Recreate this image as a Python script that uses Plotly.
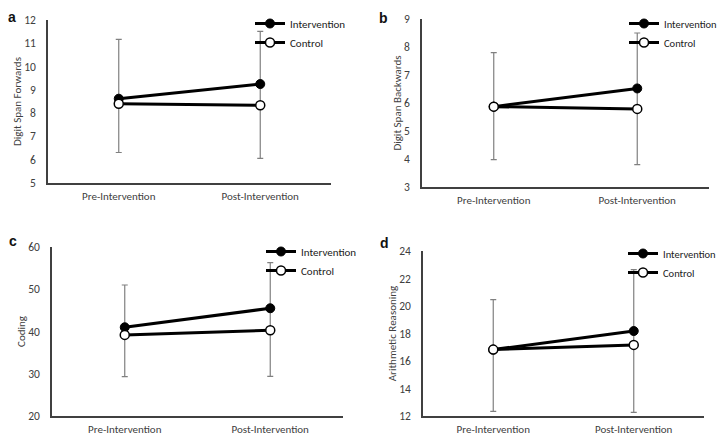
import plotly.graph_objects as go

categories = ["Pre-Intervention", "Post-Intervention"]

# Panel a: Digit Span Forwards
a_intervention = [8.62, 9.25]
a_control = [8.40, 8.34]
a_err_top = [11.17, 11.51]
a_err_bottom = [6.31, 6.06]

# Panel b: Digit Span Backwards
b_intervention = [5.87, 6.52]
b_control = [5.87, 5.79]
b_err_top = [7.80, 8.50]
b_err_bottom = [3.98, 3.80]

# Panel c: Coding
c_intervention = [41.0, 45.5]
c_control = [39.2, 40.3]
c_err_top = [51.0, 56.3]
c_err_bottom = [29.3, 29.4]

# Panel d: Arithmetic Reasoning
d_intervention = [16.83, 18.18]
d_control = [16.83, 17.17]
d_err_top = [20.46, 22.65]
d_err_bottom = [12.34, 12.27]

panels = [
    dict(label="a", ytitle="Digit Span Forwards", inter=a_intervention, ctrl=a_control,
         top=a_err_top, bot=a_err_bottom, yrange=[5, 12], dtick=1),
    dict(label="b", ytitle="Digit Span Backwards", inter=b_intervention, ctrl=b_control,
         top=b_err_top, bot=b_err_bottom, yrange=[3, 9], dtick=1),
    dict(label="c", ytitle="Coding", inter=c_intervention, ctrl=c_control,
         top=c_err_top, bot=c_err_bottom, yrange=[20, 60], dtick=10),
    dict(label="d", ytitle="Arithmetic Reasoning", inter=d_intervention, ctrl=d_control,
         top=d_err_top, bot=d_err_bottom, yrange=[12, 24], dtick=2),
]

# The page body has an 8px margin, so the figure is 8px smaller and all
# page-pixel positions below are shifted by OFF.
OFF = 8
W, H = 725 - OFF, 440 - OFF
# page-pixel boxes (x0, x1, ytop, ybottom)
boxes = [(48, 331, 20, 183), (422, 709, 19, 187), (52, 343, 247, 416), (423, 704, 251, 416)]
# (x centre, y top) in page pixels
label_pos = [(12, 8), (383, 9), (13, 232), (384, 234)]
# (x, y_top, font size) in page pixels
legend_pos = [(250, 9, 11), (624, 9, 10.5), (261, 237, 11), (623, 239, 10.5)]

FONT = "Carlito, Lato"
TXT = "#404040"
FS = 11


def px(x):
    return (x - OFF) / W


def py(y):
    return 1 - (y - OFF) / H


fig = go.Figure()
layout = dict(width=W, height=H, margin=dict(l=0, r=0, t=0, b=0),
              paper_bgcolor="white", plot_bgcolor="white", showlegend=True,
              font=dict(family=FONT, size=FS, color=TXT))
annotations = []

for i, p in enumerate(panels):
    n = "" if i == 0 else str(i + 1)
    xa, ya = "x" + n, "y" + n
    leg = "legend" + n
    x0, x1, yt, yb = boxes[i]
    err_plus = [t - v for t, v in zip(p["top"], p["inter"])]
    err_minus = [v - b for b, v in zip(p["bot"], p["inter"])]
    fig.add_trace(go.Scatter(
        x=categories, y=p["inter"], xaxis=xa, yaxis=ya, name="Intervention",
        mode="lines+markers", legend=leg,
        line=dict(color="black", width=3),
        marker=dict(color="black", size=9, line=dict(color="black", width=1)),
        error_y=dict(type="data", symmetric=False, array=err_plus, arrayminus=err_minus,
                     color="#808080", thickness=1.2, width=3),
    ))
    fig.add_trace(go.Scatter(
        x=categories, y=p["ctrl"], xaxis=xa, yaxis=ya, name="Control",
        mode="lines+markers", legend=leg,
        line=dict(color="black", width=3),
        marker=dict(color="white", size=9, line=dict(color="black", width=1.5)),
    ))
    layout["xaxis" + n] = dict(
        domain=[px(x0), px(x1)], anchor=ya, type="category", range=[-0.5, 1.5],
        showline=True, linecolor="#404040", linewidth=1.5, ticks="", showgrid=False,
        zeroline=False, automargin=False, ticklabelstandoff=2,
        tickfont=dict(size=FS, color=TXT, family=FONT), fixedrange=True)
    layout["yaxis" + n] = dict(
        domain=[py(yb), py(yt)], anchor=xa, range=p["yrange"], dtick=p["dtick"],
        showline=True, linecolor="#404040", linewidth=1.5, ticks="", showgrid=False,
        zeroline=False, automargin=False, ticklabelstandoff=8,
        tickfont=dict(size=FS + 0.5, color=TXT, family=FONT),
        title=dict(text=p["ytitle"], font=dict(size=FS, color=TXT, family=FONT), standoff=0))
    lx, ly, lfs = legend_pos[i]
    layout[leg] = dict(x=px(lx), y=py(ly), xanchor="left", yanchor="top",
                       bgcolor="rgba(0,0,0,0)", itemwidth=30, tracegroupgap=0,
                       font=dict(size=lfs, color="#202020", family=FONT))
    lpx, lpy = label_pos[i]
    annotations.append(dict(text="<b>" + p["label"] + "</b>", x=px(lpx), y=py(lpy),
                            xref="paper", yref="paper", showarrow=False,
                            xanchor="center", yanchor="top", borderpad=0,
                            font=dict(size=14, color="#111111", family="Liberation Sans")))

layout["annotations"] = annotations
fig.update_layout(**layout)
fig.write_html("out.html")
